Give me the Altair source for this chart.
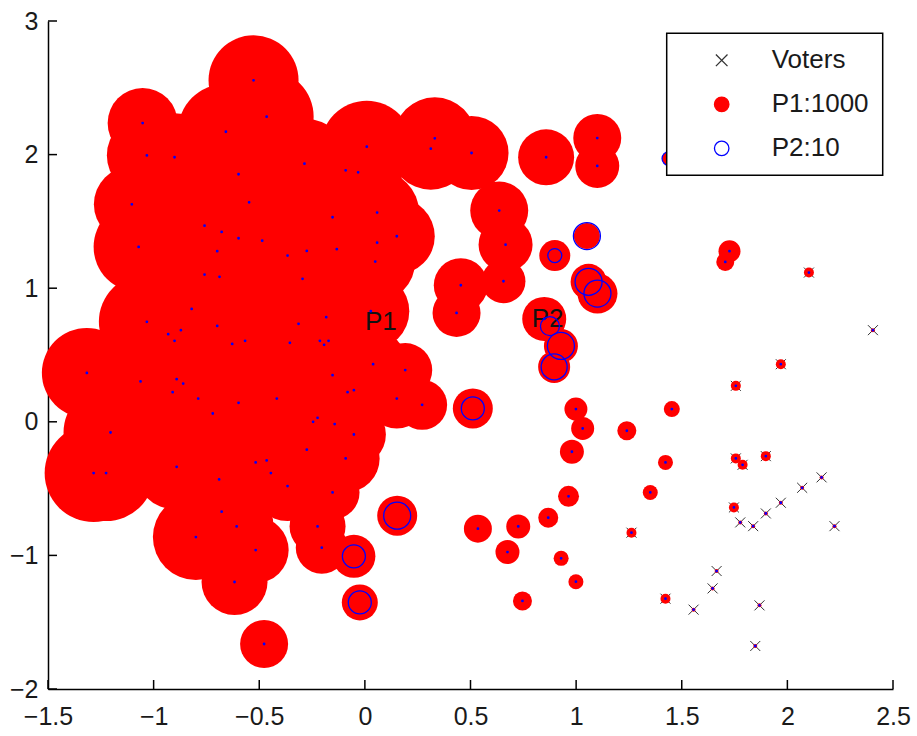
import altair as alt
import pandas as pd

# ---------------- data ----------------
# voter positions
vx = [-0.527, -1.052, -0.465, -0.658, -1.032, -0.901, 0.009, -0.286, 0.331, 0.312,
      -0.598, -0.091, -0.032, -1.103, -0.548, -0.153, 0.058, -0.759, -0.678, -0.598,
      -0.486, 0.151, 0.058, -1.071, -0.699, -0.275, -0.133, -0.366, 0.049, -0.759,
      -0.688, -0.295, -0.820, 0.028, -0.183, -1.032, -0.699, -0.314, -0.931, -0.871,
      -0.901, -0.628, -0.567, -0.355, -0.213, -0.193, -0.172, 0.039, 0.191,
      -1.316, -1.062, -0.891, -0.860, -0.910, -0.789, -0.598, -0.417, -0.720, -0.153,
      -0.082, -0.052, 0.151, 0.271, -0.245, -0.224, -0.143, -0.052, -1.204, -0.275,
      -0.091, -0.517, -0.465, -0.445, -0.891, -1.284, -1.225, -0.690, -0.366, -0.153,
      -0.678, -0.607, -0.224, -0.800, -0.517, -0.204, -0.617, -0.477,
      0.153, -0.052, -0.024, 0.511,
      0.505, 0.858, 1.100, 1.100, 0.636, 0.666, 0.454, 0.656, 0.434,
      1.051, 0.899, 1.059, 1.101, 0.849, 0.876, 0.928, 0.896, 1.440,
      1.726, 1.706, 2.102, 2.405, 1.969, 1.756,
      0.999, 1.031, 1.240, 1.453, 0.980, 1.423, 1.756, 1.788, 1.898, 0.964,
      1.351, 2.162, 2.070, 1.969, 1.898, 1.747, 1.777, 1.838, 2.223, 0.535,
      0.726, 0.868, 1.262, 0.675, 0.929, 0.999, 0.746, 1.423, 1.665, 1.646,
      1.556, 1.868, 1.848]
vy = [2.556, 2.236, 2.284, 2.171, 1.994, 1.980, 2.059, 1.932, 2.122, 2.044,
      1.853, 1.882, 1.867, 1.628, 1.643, 1.531, 1.566, 1.468, 1.421, 1.374,
      1.356, 1.389, 1.341, 1.309, 1.277, 1.279, 1.292, 1.244, 1.199, 1.102,
      1.085, 1.070, 0.845, 0.828, 0.783, 0.748, 0.718, 0.733, 0.656, 0.686,
      0.606, 0.583, 0.606, 0.591, 0.606, 0.576, 0.606, 0.431, 0.387,
      0.366, 0.302, 0.319, 0.286, 0.222, 0.174, 0.142, 0.174, 0.062, 0.349,
      0.222, 0.237, 0.174, 0.127, 0.000, 0.030, -0.017, -0.095, -0.080, -0.209,
      -0.274, -0.304, -0.289, -0.384, -0.337, -0.384, -0.384, -0.431, -0.481, -0.529,
      -0.673, -0.783, -0.783, -0.863, -0.960, -0.942, -1.199, -1.663,
      -0.703, -1.007, -1.352, 0.100,
      2.012, 1.980, 2.124, 1.915, 1.581, 1.326, 1.022, 1.052, 0.815,
      1.390, 1.244, 1.048, 0.960, 0.770, 0.716, 0.568, 0.411, 1.970,
      1.277, 1.197, 1.117, 0.686, 0.431, 0.269,
      0.095, -0.050, -0.067, 0.095, -0.224, -0.304, -0.274, -0.322, -0.257, -0.558,
      -0.529, -0.416, -0.494, -0.606, -0.686, -0.641, -0.753, -0.781, -0.781, -0.800,
      -0.783, -0.718, -0.830, -0.975, -1.022, -1.197, -1.341, -1.324, -1.117, -1.247,
      -1.406, -1.374, -1.678]
# P1 weight at each voter (red discs)
p1 = [0.90, 0.70, 0.94, 0.96, 0.80, 0.88, 0.92, 0.90, 0.82, 0.82,
      0.92, 0.88, 0.88, 0.76, 0.94, 0.88, 0.84, 0.94, 0.96, 0.96,
      0.96, 0.76, 0.80, 0.90, 0.96, 0.92, 0.86, 0.96, 0.80, 0.96,
      0.96, 0.96, 0.94, 0.77, 0.88, 0.96, 0.96, 0.92, 0.92, 0.92,
      0.92, 0.96, 0.96, 0.94, 0.86, 0.86, 0.84, 0.68, 0.54,
      0.90, 0.90, 0.90, 0.90, 0.90, 0.88, 0.88, 0.84, 0.86, 0.76,
      0.68, 0.68, 0.60, 0.50, 0.74, 0.74, 0.68, 0.64, 0.94, 0.70,
      0.68, 0.78, 0.78, 0.74, 0.86, 0.98, 0.96, 0.78, 0.70, 0.54,
      0.76, 0.74, 0.56, 0.86, 0.66, 0.52, 0.66, 0.48,
      0.40, 0.43, 0.36, 0.40,
      0.74, 0.56, 0.48, 0.44, 0.58, 0.54, 0.54, 0.44, 0.48,
      0.26, 0.31, 0.36, 0.40, 0.44, 0.28, 0.34, 0.32, 0.14,
      0.22, 0.18, 0.10, 0.04, 0.10, 0.10,
      0.23, 0.23, 0.19, 0.16, 0.24, 0.15, 0.10, 0.10, 0.10, 0.21,
      0.15, 0.04, 0.04, 0.04, 0.04, 0.10, 0.04, 0.04, 0.04, 0.28,
      0.24, 0.20, 0.10, 0.24, 0.15, 0.15, 0.19, 0.10, 0.04, 0.04,
      0.04, 0.04, 0.04]
# P2 weight at each voter (blue rings)
p2 = [0.015] * 87 + [0.27, 0.23, 0.23, 0.23] + [0.015] * 9 + \
     [0.27, 0.14, 0.27, 0.27, 0.015, 0.19, 0.27, 0.26, 0.14] + [0.015] * 39

cand_names = ["P1", "P2"]
cand_x = [0.0, 0.79]
cand_y = [0.75, 0.77]

x_ticks = [-1.5, -1, -0.5, 0, 0.5, 1, 1.5, 2, 2.5]
y_ticks = [-2, -1, 0, 1, 2, 3]
series = ["Voters", "P1:1000", "P2:10"]

# ---------------- chart ----------------
W, H = 845, 668
FONT = "Liberation Sans"
XPATH = "M-0.8,-0.8L0.8,0.8M-0.8,0.8L0.8,-0.8"

voters = pd.DataFrame({"x": vx, "y": vy, "p1": p1, "p2": p2})
cands = pd.DataFrame({"name": cand_names, "x": cand_x, "y": cand_y})
xt = pd.DataFrame({"x": x_ticks})
yt = pd.DataFrame({"y": y_ticks})

xscale = alt.Scale(domain=[-1.5, 2.5], nice=False, zero=False)
yscale = alt.Scale(domain=[-2, 3], nice=False, zero=False)
common_axis = dict(grid=False, ticks=False, domain=True, domainColor="#000000",
                   domainWidth=1.5, labelFont=FONT, labelFontSize=25,
                   labelColor="#1a1a1a", labelFlush=False, labelOverlap=False,
                   title="", format="~g")
X = alt.X("x:Q", scale=xscale, axis=alt.Axis(values=x_ticks, labelPadding=15, **common_axis))
Y = alt.Y("y:Q", scale=yscale, axis=alt.Axis(values=y_ticks, labelPadding=10, **common_axis))

shape = alt.Shape("series:N", scale=alt.Scale(domain=series, range=[XPATH, "circle", "circle"]),
                  legend=alt.Legend(title=None))
fill = alt.Fill("series:N", scale=alt.Scale(domain=series, range=["transparent", "#ff0000", "transparent"]),
                legend=alt.Legend(title=None))
stroke = alt.Stroke("series:N", scale=alt.Scale(domain=series, range=["#333333", "#ff0000", "#0000ff"]),
                    legend=alt.Legend(title=None))
size_scale = alt.Scale(type="pow", exponent=2, domain=[0, 1], range=[0, 10000])

ticks_x = alt.Chart(xt).mark_rule(color="#000000", strokeWidth=1.5).encode(
    x=X, y=alt.value(H), y2=alt.value(H - 9))
ticks_y = alt.Chart(yt).mark_rule(color="#000000", strokeWidth=1.5).encode(
    y=Y, x=alt.value(0), x2=alt.value(9))

voter_layer = alt.Chart(voters).transform_calculate(series="'Voters'").mark_point(
    size=156, strokeWidth=1, opacity=1).encode(x=X, y=Y, shape=shape, fill=fill, stroke=stroke)

red_layer = alt.Chart(voters).transform_calculate(series="'P1:1000'").mark_point(
    strokeWidth=0, opacity=1).encode(
    x=X, y=Y, shape=shape, fill=fill, stroke=stroke,
    size=alt.Size("p1:Q", scale=size_scale, legend=None))

text_layer = alt.Chart(cands).mark_text(
    align="left", baseline="middle", font=FONT, fontSize=26, color="#111111").encode(
    x=X, y=Y, text="name:N")

blue_layer = alt.Chart(voters).transform_calculate(series="'P2:10'").mark_point(
    strokeWidth=1.3, opacity=1).encode(
    x=X, y=Y, shape=shape, fill=fill, stroke=stroke,
    size=alt.Size("p2:Q", scale=size_scale, legend=None))

chart = alt.layer(ticks_x, ticks_y, voter_layer, red_layer, text_layer, blue_layer).properties(
    width=W, height=H,
    padding={"left": 48, "top": 21, "right": 24, "bottom": 47},
    autosize=alt.AutoSizeParams(type="none"),
).configure_view(stroke="transparent").configure_legend(
    orient="none", legendX=618.7, legendY=12.3,
    fillColor="#ffffff", strokeColor="#000000", strokeWidth=1.5, cornerRadius=0,
    padding=14, rowPadding=18, symbolOffset=28, labelOffset=37,
    symbolSize=210, symbolStrokeWidth=1.3,
    labelFont=FONT, labelFontSize=26, labelColor="#1a1a1a", labelLimit=300,
)

chart.save("out.html", embed_options={"renderer": "svg", "actions": False})
